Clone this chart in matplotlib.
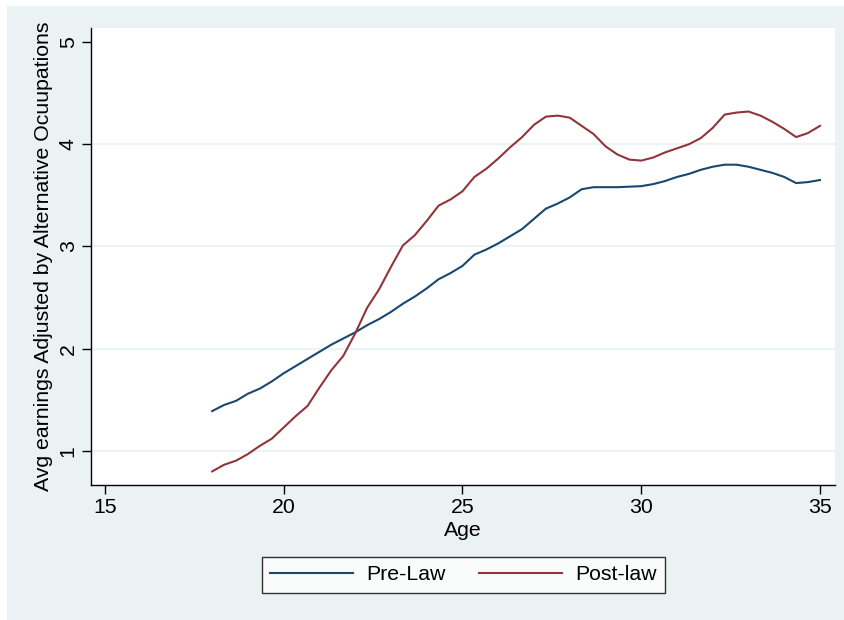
import matplotlib.pyplot as plt
from matplotlib.patches import Rectangle
import numpy as np

plt.rcParams['font.family'] = ['Liberation Sans', 'DejaVu Sans']

# ages in 4-month steps from 18 to 35
age = 18 + np.arange(52) / 3

pre_law = [1.39, 1.45, 1.49, 1.56, 1.61, 1.68, 1.76, 1.83, 1.90, 1.97,
           2.04, 2.10, 2.16, 2.23, 2.29, 2.36, 2.44, 2.51, 2.59, 2.68,
           2.74, 2.81, 2.92, 2.97, 3.03, 3.10, 3.17, 3.27, 3.37, 3.42,
           3.48, 3.56, 3.58, 3.58, 3.58, 3.585, 3.59, 3.61, 3.64, 3.68,
           3.71, 3.75, 3.78, 3.80, 3.80, 3.78, 3.75, 3.72, 3.68, 3.62,
           3.63, 3.65]

post_law = [0.80, 0.865, 0.905, 0.97, 1.05, 1.12, 1.23, 1.34, 1.44, 1.62,
            1.79, 1.93, 2.15, 2.40, 2.58, 2.80, 3.01, 3.11, 3.25, 3.40,
            3.46, 3.54, 3.68, 3.76, 3.86, 3.97, 4.07, 4.19, 4.27, 4.28,
            4.26, 4.18, 4.10, 3.98, 3.90, 3.85, 3.84, 3.87, 3.92, 3.96,
            4.00, 4.06, 4.16, 4.29, 4.31, 4.32, 4.28, 4.22, 4.15, 4.07,
            4.11, 4.18]

x_ticks = [15, 20, 25, 30, 35]
y_ticks = [1, 2, 3, 4, 5]

bg = '#EAF2F3'
fs = 15.3
fig = plt.figure(figsize=(8.45, 6.2), dpi=100, facecolor='white')
fig.patches.append(Rectangle((7 / 845, 0), 1, 1 - 6 / 620, transform=fig.transFigure,
                             facecolor=bg, edgecolor='none', zorder=-10))

ax = fig.add_axes([91 / 845, 135 / 620, 744 / 845, 457 / 620])
ax.set_facecolor('white')

for y in y_ticks[:-1]:
    ax.axhline(y, color=bg, lw=1.3, zorder=0)

ax.plot(age, pre_law, color='#1A476F', lw=1.5, label='Pre-Law')
ax.plot(age, post_law, color='#90353B', lw=1.5, label='Post-law')

ax.set_xlim(14.61, 35.42)
ax.set_ylim(0.667, 5.137)
ax.set_xticks(x_ticks)
ax.set_yticks(y_ticks)
ax.tick_params(axis='both', labelsize=fs, length=6.5, width=1, pad=3, color='black')
plt.setp(ax.get_yticklabels(), rotation=90, va='center')

for side in ['top', 'right']:
    ax.spines[side].set_visible(False)
for side in ['left', 'bottom']:
    ax.spines[side].set_linewidth(1)
    ax.spines[side].set_color('black')

ax.set_xlabel('Age', fontsize=fs, labelpad=3)
ax.set_ylabel('Avg earnings Adjusted by Alternative Ocuupations', fontsize=fs, labelpad=4)

leg = fig.legend(loc='center', bbox_to_anchor=(463.5 / 845, 1 - 574.5 / 620), ncol=2,
                 fontsize=fs, frameon=True, fancybox=False, handlelength=3.9,
                 handletextpad=0.6, columnspacing=1.6, borderpad=0.4)
leg.get_frame().set_edgecolor('black')
leg.get_frame().set_linewidth(1)

fig.savefig('out.png', dpi=100, facecolor=fig.get_facecolor())
